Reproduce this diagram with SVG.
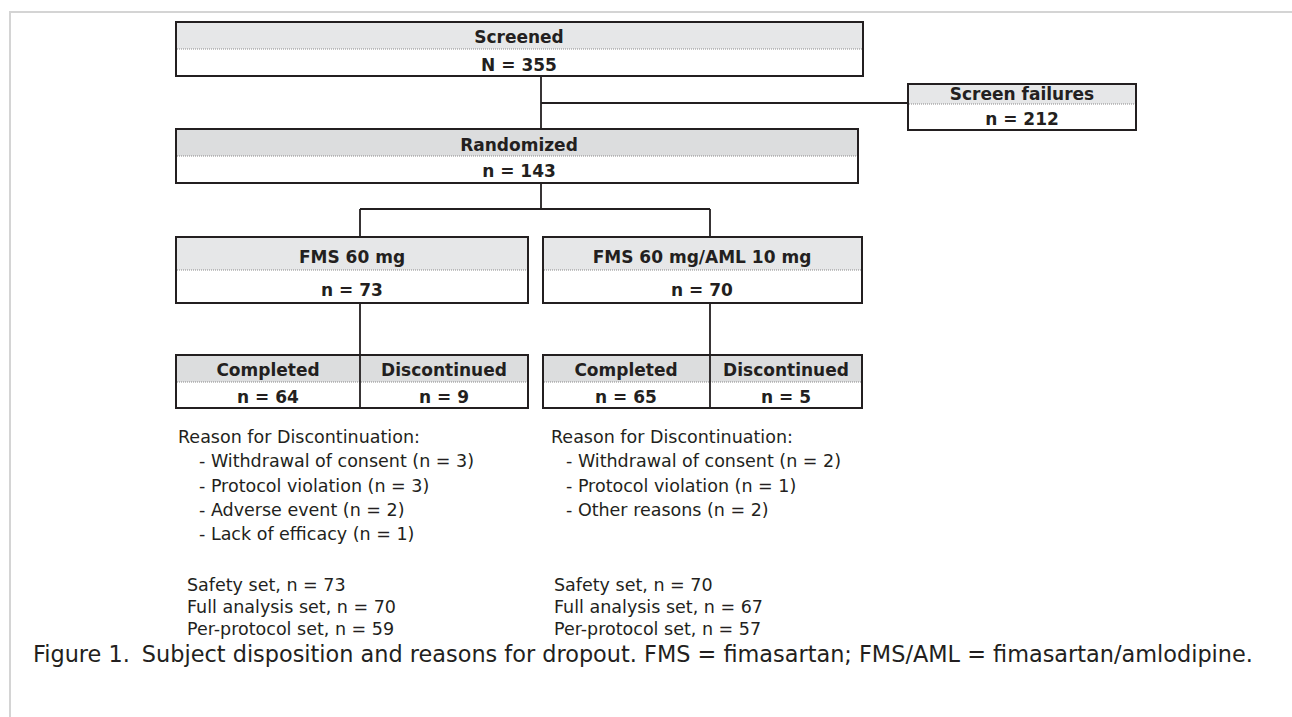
<svg xmlns="http://www.w3.org/2000/svg" width="1292" height="717" viewBox="0 0 1292 717">
<style>
.box{fill:#ffffff;stroke:#231f20;stroke-width:2}
.hd1{fill:#e6e7e8}
.hd2{fill:#dcddde}
.div{stroke:#8a8a8a;stroke-width:1.2;stroke-dasharray:1 1;fill:none}
.lbl{font-family:"DejaVu Sans",sans-serif;font-weight:bold;font-size:17px;fill:#231f20;text-anchor:middle}
.txt{font-family:"DejaVu Sans",sans-serif;font-size:17.5px;fill:#231f20}
.cap{font-family:"DejaVu Sans",sans-serif;font-size:22.4px;fill:#231f20}
.con{stroke:#231f20;stroke-width:1.8;fill:none}
</style>
<rect width="1292" height="717" fill="#ffffff"/>
<path d="M1292,12 H10 V717" fill="none" stroke="#d4d4d4" stroke-width="2"/>

<g id="connectors">
<path class="con" d="M541,76 V129"/>
<path class="con" d="M541,103 H908"/>
<path class="con" d="M541,183 V209 M360,209 H710 M360,209 V237 M710,209 V237"/>
<path class="con" d="M360,303 V355"/>
<path class="con" d="M710,303 V355"/>
</g>

<g id="screened">
<rect x="176" y="22" width="687" height="54" class="box"/>
<rect x="177" y="23" width="685" height="26" class="hd1"/>
<line x1="177" y1="49" x2="862" y2="49" class="div"/>
<text x="519" y="43" class="lbl">Screened</text>
<text x="519" y="71" class="lbl">N = 355</text>
</g>

<g id="screen-failures">
<rect x="908" y="84" width="228" height="46" class="box"/>
<rect x="909" y="85" width="226" height="19" class="hd1"/>
<line x1="909" y1="104" x2="1135" y2="104" class="div"/>
<text x="1022" y="100" class="lbl">Screen failures</text>
<text x="1022" y="125" class="lbl">n = 212</text>
</g>

<g id="randomized">
<rect x="176" y="129" width="682" height="54" class="box"/>
<rect x="177" y="130" width="680" height="26" class="hd2"/>
<line x1="177" y1="156" x2="857" y2="156" class="div"/>
<text x="519" y="151" class="lbl">Randomized</text>
<text x="519" y="177" class="lbl">n = 143</text>
</g>

<g id="fms60">
<rect x="176" y="237" width="352" height="66" class="box"/>
<rect x="177" y="238" width="350" height="32" class="hd1"/>
<line x1="177" y1="270" x2="527" y2="270" class="div"/>
<text x="352" y="263" class="lbl">FMS 60 mg</text>
<text x="352" y="296" class="lbl">n = 73</text>
</g>

<g id="fms60-aml10">
<rect x="543" y="237" width="319" height="66" class="box"/>
<rect x="544" y="238" width="317" height="32" class="hd1"/>
<line x1="544" y1="270" x2="861" y2="270" class="div"/>
<text x="702" y="263" class="lbl">FMS 60 mg/AML 10 mg</text>
<text x="702" y="296" class="lbl">n = 70</text>
</g>

<g id="fms60-outcome">
<rect x="176" y="355" width="352" height="53" class="box"/>
<rect x="177" y="356" width="350" height="26" class="hd2"/>
<line x1="177" y1="382" x2="527" y2="382" class="div"/>
<line x1="360" y1="355" x2="360" y2="408" class="con"/>
<text x="268" y="376" class="lbl">Completed</text>
<text x="268" y="403" class="lbl">n = 64</text>
<text x="444" y="376" class="lbl">Discontinued</text>
<text x="444" y="403" class="lbl">n = 9</text>
</g>

<g id="fms60-aml10-outcome">
<rect x="543" y="355" width="319" height="53" class="box"/>
<rect x="544" y="356" width="317" height="26" class="hd2"/>
<line x1="544" y1="382" x2="861" y2="382" class="div"/>
<line x1="710" y1="355" x2="710" y2="408" class="con"/>
<text x="626" y="376" class="lbl">Completed</text>
<text x="626" y="403" class="lbl">n = 65</text>
<text x="786" y="376" class="lbl">Discontinued</text>
<text x="786" y="403" class="lbl">n = 5</text>
</g>

<g id="reasons-left" class="txt">
<text x="178" y="443">Reason for Discontinuation:</text>
<text x="199" y="467">- Withdrawal of consent (n = 3)</text>
<text x="199" y="492">- Protocol violation (n = 3)</text>
<text x="199" y="516">- Adverse event (n = 2)</text>
<text x="199" y="540">- Lack of efficacy (n = 1)</text>
<text x="187" y="591">Safety set, n = 73</text>
<text x="187" y="613">Full analysis set, n = 70</text>
<text x="187" y="635">Per-protocol set, n = 59</text>
</g>

<g id="reasons-right" class="txt">
<text x="551" y="443">Reason for Discontinuation:</text>
<text x="566" y="467">- Withdrawal of consent (n = 2)</text>
<text x="566" y="492">- Protocol violation (n = 1)</text>
<text x="566" y="516">- Other reasons (n = 2)</text>
<text x="554" y="591">Safety set, n = 70</text>
<text x="554" y="613">Full analysis set, n = 67</text>
<text x="554" y="635">Per-protocol set, n = 57</text>
</g>

<text x="33" y="662" class="cap">Figure 1.<tspan dx="12">Subject disposition and reasons for dropout. FMS = fimasartan; FMS/AML = fimasartan/amlodipine.</tspan></text>
</svg>
